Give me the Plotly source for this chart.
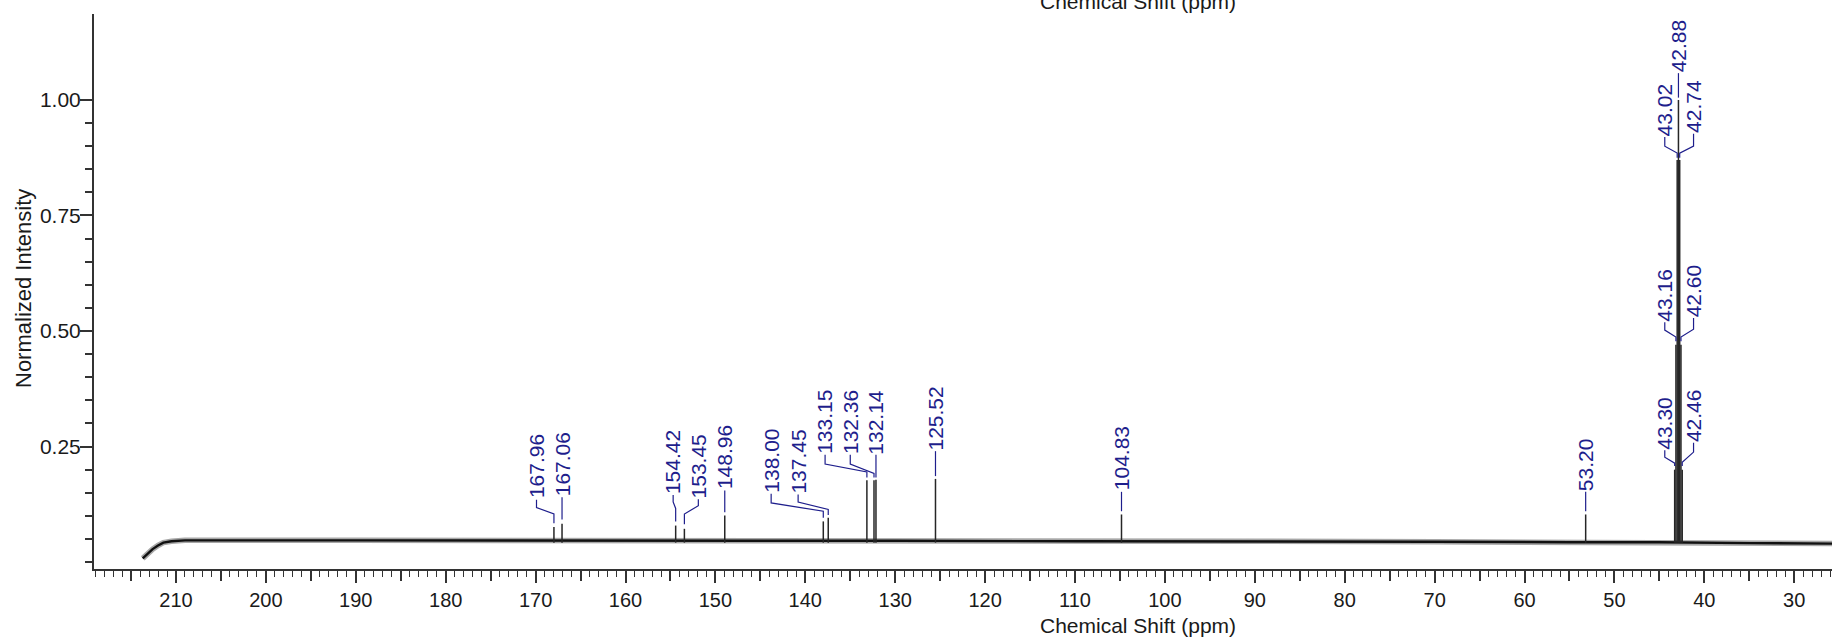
import plotly.graph_objects as go

# ---------------- data ----------------
baseline_ppm = [213.7, 213.2, 212.6, 212.0, 211.4, 210.5, 209.0, 190.0, 170.0, 150.0, 130.0, 110.0, 90.0, 70.0, 55.0, 45.0, 35.0, 25.8]
baseline_val = [0.008, 0.018, 0.028, 0.036, 0.042, 0.045, 0.047, 0.047, 0.047, 0.046, 0.046, 0.045, 0.045, 0.044, 0.043, 0.043, 0.041, 0.040]

peak_ppm = [167.96, 167.06, 154.42, 153.45, 148.96, 138.00, 137.45, 133.15, 132.36, 132.14,
            125.52, 104.83, 53.20, 43.30, 43.16, 43.02, 42.88, 42.74, 42.60, 42.46]
peak_height = [0.076, 0.083, 0.079, 0.072, 0.101, 0.088, 0.096, 0.177, 0.177, 0.178,
               0.180, 0.103, 0.103, 0.20, 0.47, 0.87, 1.00, 0.87, 0.47, 0.20]
peak_labels = ["167.96", "167.06", "154.42", "153.45", "148.96", "138.00", "137.45", "133.15", "132.36", "132.14",
               "125.52", "104.83", "53.20", "43.30", "43.16", "43.02", "42.88", "42.74", "42.60", "42.46"]
# label placement: label x in ppm; text bottom and connector bend heights in intensity units
label_x = [169.9, 167.06, 154.7, 151.9, 148.96, 143.8, 140.8, 137.8, 135.0, 132.14,
           125.52, 104.83, 53.20, 44.4, 44.4, 44.4, 42.88, 41.2, 41.2, 41.2]
label_y = [0.135, 0.140, 0.145, 0.136, 0.155, 0.148, 0.146, 0.232, 0.232, 0.232,
           0.240, 0.152, 0.152, 0.242, 0.519, 0.920, 1.058, 0.927, 0.528, 0.258]
stem_y = [0.118, 0.125, 0.130, 0.122, 0.140, 0.128, 0.130, 0.212, 0.212, 0.215,
          0.225, 0.140, 0.140, 0.227, 0.502, 0.900, 1.045, 0.900, 0.504, 0.238]
knee_y = [0.104, 0.115, 0.116, 0.104, 0.130, 0.110, 0.114, 0.195, 0.192, 0.200,
          0.210, 0.130, 0.130, 0.214, 0.487, 0.885, 1.030, 0.885, 0.487, 0.216]
end_y = [0.084, 0.092, 0.088, 0.082, 0.108, 0.096, 0.102, 0.183, 0.183, 0.183,
         0.186, 0.110, 0.110, 0.208, 0.478, 0.875, 1.005, 0.875, 0.478, 0.208]

x_major = [210, 200, 190, 180, 170, 160, 150, 140, 130, 120, 110, 100, 90, 80, 70, 60, 50, 40, 30]
y_major = [0.25, 0.50, 0.75, 1.00]
y_major_text = ["0.25", "0.50", "0.75", "1.00"]
y_minor = [0.00, 0.05, 0.10, 0.15, 0.20, 0.30, 0.35, 0.40, 0.45, 0.55, 0.60, 0.65, 0.70, 0.80, 0.85, 0.90, 0.95]

X_RANGE = [219.12, 25.8]
Y_RANGE = [-0.015, 1.186]
LABEL_COLOR = "#1e1e8c"
TEXT_COLOR = "#1a1a1a"
AXIS_COLOR = "#333333"
FONT = "Liberation Sans, Arial, sans-serif"
LABEL_SIZE = 21

fig = go.Figure()

# baseline band (fuzzy noise look)
fig.add_trace(go.Scatter(x=baseline_ppm, y=baseline_val, mode="lines",
                         line=dict(color="rgba(60,60,60,0.45)", width=5.5), hoverinfo="skip", showlegend=False))
fig.add_trace(go.Scatter(x=baseline_ppm, y=baseline_val, mode="lines",
                         line=dict(color="#111111", width=2.4), hoverinfo="skip", showlegend=False))

# peaks as vertical sticks rising from the baseline level
px, py = [], []
for p, h in zip(peak_ppm, peak_height):
    px += [p, p, None]
    py += [0.042, h, None]
fig.add_trace(go.Scatter(x=px, y=py, mode="lines", line=dict(color="#262626", width=1.5),
                         hoverinfo="skip", showlegend=False))

# label connectors
cx, cy = [], []
for p, lx, ly, sy, ky, ey in zip(peak_ppm, label_x, label_y, stem_y, knee_y, end_y):
    cx += [lx, lx, p, p, None]
    cy += [ly, sy, ky, ey, None]
fig.add_trace(go.Scatter(x=cx, y=cy, mode="lines", line=dict(color=LABEL_COLOR, width=1.2),
                         hoverinfo="skip", showlegend=False))

# dummy trace for the overlay axis carrying the labelled major ticks
fig.add_trace(go.Scatter(x=[None], y=[None], xaxis="x2", showlegend=False, hoverinfo="skip"))


def text_len_px(t, size):
    return size * sum(0.278 if ch == "." else 0.556 for ch in t)


annotations = []
for t, lx, ly in zip(peak_labels, label_x, label_y):
    annotations.append(dict(x=lx, y=ly, xref="x", yref="y", text=t, textangle=-90,
                            showarrow=False, xanchor="center", yanchor="middle", borderpad=0,
                            yshift=text_len_px(t, LABEL_SIZE) / 2 + 1,
                            font=dict(family=FONT, size=LABEL_SIZE, color=LABEL_COLOR)))

# titles
annotations.append(dict(x=0.6007, y=0, xref="paper", yref="paper", yshift=-56,
                        text="Chemical Shift (ppm)", showarrow=False, xanchor="center", yanchor="middle",
                        font=dict(family=FONT, size=21, color=TEXT_COLOR)))
annotations.append(dict(x=0.6007, y=1, xref="paper", yref="paper", yshift=13,
                        text="Chemical Shift (ppm)", showarrow=False, xanchor="center", yanchor="middle",
                        font=dict(family=FONT, size=21, color=TEXT_COLOR)))
annotations.append(dict(x=0, y=0.5045, xref="paper", yref="paper", xshift=-71,
                        text="Normalized Intensity", textangle=-90, showarrow=False,
                        xanchor="center", yanchor="middle",
                        font=dict(family=FONT, size=22, color=TEXT_COLOR)))

fig.update_layout(
    width=1832, height=638,
    margin=dict(l=94, r=0, t=14, b=69),
    paper_bgcolor="white", plot_bgcolor="white",
    showlegend=False,
    annotations=annotations,
    xaxis=dict(range=X_RANGE, showgrid=False, zeroline=False,
               showline=True, linecolor=AXIS_COLOR, linewidth=2,
               ticks="outside", tickmode="linear", tick0=0, dtick=5, ticklen=10, tickwidth=1.5,
               tickcolor=AXIS_COLOR, showticklabels=False,
               minor=dict(ticks="outside", dtick=1, tick0=0, ticklen=6, tickwidth=1.2, tickcolor=AXIS_COLOR)),
    xaxis2=dict(range=X_RANGE, overlaying="x", anchor="y", side="bottom", showgrid=False, zeroline=False,
                showline=False, ticks="outside", tickmode="array", tickvals=x_major, ticklen=13,
                tickwidth=1.5, tickcolor=AXIS_COLOR,
                tickfont=dict(family=FONT, size=20, color=TEXT_COLOR)),
    yaxis=dict(range=Y_RANGE, showgrid=False, zeroline=False,
               showline=True, linecolor=AXIS_COLOR, linewidth=2,
               ticks="outside", tickmode="array", tickvals=y_major, ticktext=y_major_text,
               ticklen=12, tickwidth=1.5, tickcolor=AXIS_COLOR, ticklabelstandoff=-5,
               tickfont=dict(family=FONT, size=21, color=TEXT_COLOR),
               minor=dict(ticks="outside", tickmode="array", tickvals=y_minor, ticklen=7,
                          tickwidth=1.5, tickcolor=AXIS_COLOR)),
)

fig.write_html("out.html", config={"displayModeBar": False},
               post_script="document.body.style.margin='0';document.body.style.overflow='hidden';")
